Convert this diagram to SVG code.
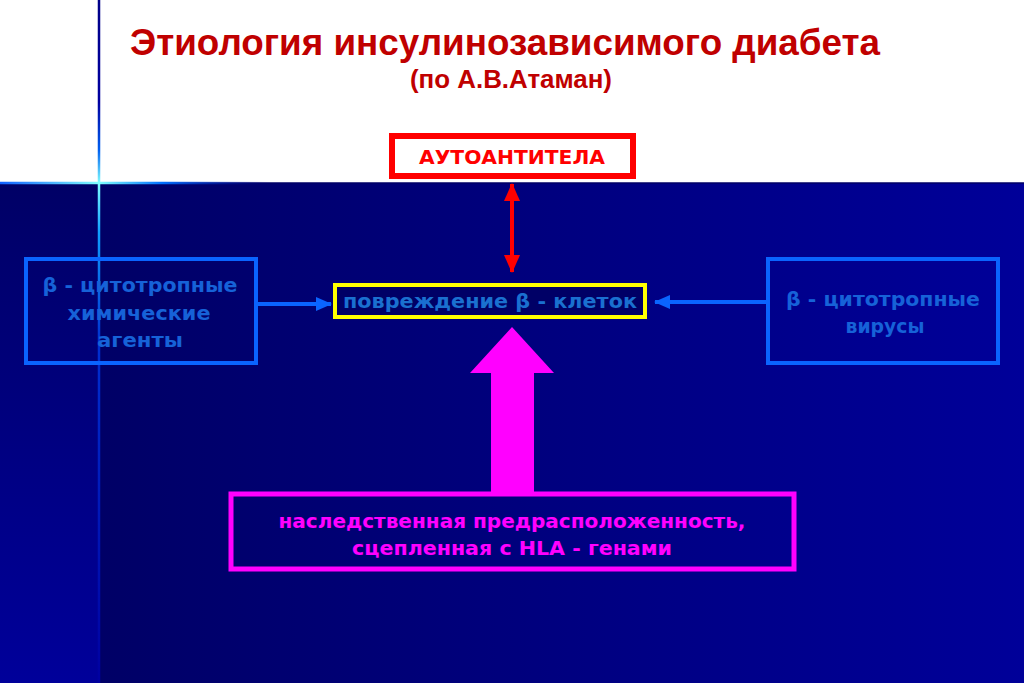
<svg xmlns="http://www.w3.org/2000/svg" width="1024" height="683" viewBox="0 0 1024 683">
  <defs>
    <linearGradient id="bgMain" x1="100" y1="0" x2="1024" y2="0" gradientUnits="userSpaceOnUse">
      <stop offset="0" stop-color="#000066"/>
      <stop offset="1" stop-color="#000099"/>
    </linearGradient>
    <linearGradient id="bgLeft" x1="0" y1="183" x2="0" y2="683" gradientUnits="userSpaceOnUse">
      <stop offset="0" stop-color="#000066"/>
      <stop offset="0.5" stop-color="#000080"/>
      <stop offset="1" stop-color="#00009a"/>
    </linearGradient>
    <linearGradient id="vLine" x1="0" y1="0" x2="0" y2="683" gradientUnits="userSpaceOnUse">
      <stop offset="0" stop-color="#000088"/>
      <stop offset="0.15" stop-color="#0000a0"/>
      <stop offset="0.22" stop-color="#0060f0"/>
      <stop offset="0.268" stop-color="#80ffff"/>
      <stop offset="0.34" stop-color="#10a0ff"/>
      <stop offset="0.5" stop-color="#0030d0"/>
      <stop offset="1" stop-color="#0000a0"/>
    </linearGradient>
    <linearGradient id="hLine" x1="0" y1="0" x2="270" y2="0" gradientUnits="userSpaceOnUse">
      <stop offset="0" stop-color="#1060ff"/>
      <stop offset="0.367" stop-color="#80ffff"/>
      <stop offset="0.6" stop-color="#0070ff"/>
      <stop offset="1" stop-color="#000099" stop-opacity="0"/>
    </linearGradient>
    <filter id="glow" x="-50%" y="-50%" width="200%" height="200%">
      <feGaussianBlur stdDeviation="2"/>
    </filter>
    <marker id="arrBlue" viewBox="0 0 16 14" refX="15" refY="7" markerWidth="16" markerHeight="14" markerUnits="userSpaceOnUse" orient="auto">
      <path d="M0,0 L16,7 L0,14 Z" fill="#0a64ff"/>
    </marker>
    <marker id="arrRed" viewBox="0 0 18 16" refX="17" refY="8" markerWidth="18" markerHeight="16" markerUnits="userSpaceOnUse" orient="auto-start-reverse">
      <path d="M0,0 L18,8 L0,16 Z" fill="#ff0000"/>
    </marker>
    <style>
      .title { font-family: "Liberation Sans Narrow", "Liberation Sans", Arial, sans-serif; font-weight: bold; fill: #c00000; }
      .lbl { font-family: "DejaVu Sans", "Liberation Sans", sans-serif; font-weight: bold; font-size: 20px; text-anchor: middle; }
      .blueTxt { fill: #1662d8; }
      .boxBlue { fill: none; stroke: #0a64ff; stroke-width: 4; }
    </style>
  </defs>

  <!-- background -->
  <rect x="0" y="0" width="1024" height="683" fill="#ffffff"/>
  <rect x="100" y="183" width="924" height="500" fill="url(#bgMain)"/>
  <rect x="0" y="183" width="100" height="500" fill="url(#bgLeft)"/>
  <line x1="100" y1="183" x2="1024" y2="183" stroke="#000066" stroke-width="1.5"/>

  <!-- glow lines -->
  <g id="glowLines">
    <line x1="99" y1="120" x2="99" y2="320" stroke="#40c0ff" stroke-width="6" filter="url(#glow)" opacity="0.6"/>
    <line x1="20" y1="183" x2="220" y2="183" stroke="#40c0ff" stroke-width="5" filter="url(#glow)" opacity="0.6"/>
    <line x1="99" y1="0" x2="99" y2="683" stroke="url(#vLine)" stroke-width="2.5"/>
    <line x1="0" y1="183" x2="270" y2="183" stroke="url(#hLine)" stroke-width="2.5"/>
  </g>

  <!-- title -->
  <g id="title">
    <text class="title" x="505" y="55" font-size="36" text-anchor="middle" textLength="750" lengthAdjust="spacingAndGlyphs">Этиология инсулинозависимого диабета</text>
    <text class="title" x="511" y="88" font-size="25" text-anchor="middle" textLength="202" lengthAdjust="spacingAndGlyphs">(по А.В.Атаман)</text>
  </g>

  <!-- connectors -->
  <g id="connectors">
    <line x1="512" y1="184" x2="512" y2="272" stroke="#ff0000" stroke-width="4" marker-start="url(#arrRed)" marker-end="url(#arrRed)"/>
    <line x1="258" y1="304" x2="331" y2="304" stroke="#0a64ff" stroke-width="4" marker-end="url(#arrBlue)"/>
    <line x1="766" y1="302" x2="655" y2="302" stroke="#0a64ff" stroke-width="4" marker-end="url(#arrBlue)"/>
    <polygon points="512,327 554,373 534,373 534,492 491,492 491,373 470,373" fill="#ff00ff"/>
  </g>

  <!-- nodes -->
  <g id="node-autoantibodies">
    <rect x="392" y="136" width="241" height="40" fill="#ffffff" stroke="#ff0000" stroke-width="6"/>
    <text class="lbl" x="512" y="164" fill="#ff0000" textLength="186" lengthAdjust="spacingAndGlyphs">АУТОАНТИТЕЛА</text>
  </g>

  <g id="node-damage">
    <rect x="335" y="285" width="310" height="32" fill="#000066" stroke="#ffff00" stroke-width="4"/>
    <text class="lbl" x="490" y="308" fill="#1a70d0" textLength="294" lengthAdjust="spacingAndGlyphs">повреждение  β - клеток</text>
  </g>

  <g id="node-chemicals">
    <rect class="boxBlue" x="26" y="259" width="230" height="104"/>
    <text class="lbl blueTxt" x="140" y="292" textLength="195" lengthAdjust="spacingAndGlyphs">β - цитотропные</text>
    <text class="lbl blueTxt" x="139" y="320" textLength="143" lengthAdjust="spacingAndGlyphs">химические</text>
    <text class="lbl blueTxt" x="140" y="347" textLength="86" lengthAdjust="spacingAndGlyphs">агенты</text>
  </g>

  <g id="node-viruses">
    <rect class="boxBlue" x="768" y="259" width="230" height="104"/>
    <text class="lbl blueTxt" x="883" y="306" textLength="194" lengthAdjust="spacingAndGlyphs">β - цитотропные</text>
    <text class="lbl blueTxt" x="885" y="333" textLength="79" lengthAdjust="spacingAndGlyphs">вирусы</text>
  </g>

  <g id="node-heredity">
    <rect x="231" y="494" width="563" height="75" fill="none" stroke="#ff00ff" stroke-width="5"/>
    <text class="lbl" x="512" y="528" fill="#ff00ff" textLength="467" lengthAdjust="spacingAndGlyphs">наследственная предрасположенность,</text>
    <text class="lbl" x="512" y="555" fill="#ff00ff" textLength="320" lengthAdjust="spacingAndGlyphs">сцепленная с HLA - генами</text>
  </g>
</svg>
